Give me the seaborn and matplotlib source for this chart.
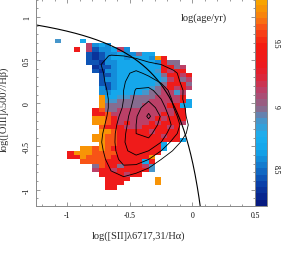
import numpy as np
import matplotlib
matplotlib.use("Agg")
import matplotlib.pyplot as plt
from matplotlib.colors import LinearSegmentedColormap
from matplotlib.ticker import MultipleLocator, FormatStrFormatter
import seaborn as sns

# age map: one char per 0.05 x 0.05 cell, '.' = no data
# columns start at x=-1.10, rows start at y=0.80 (top) and go down
age_rows = [
    "",
    "4...3",
    ".....6232",
    "...7.6122362",
    ".....10122322533",
    ".....1012332333297",
    ".....110223333332755",
    "......011233333337756",
    "......102233333347677",
    ".......112333333357767",
    ".......122333333346756",
    ".......112333333457775",
    ".......212333334567676",
    ".......22333334556646",
    ".......93344555566667",
    ".......944555556666673",
    ".......955555566667733",
    "......785566666666677",
    "......778666666667677",
    "......998766666676777",
    "......998767666767776",
    ".......8777666777767",
    ".......9987777767777",
    "......99887777777677",
    "......998877777777773",
    ".......98877777773",
    "....99898777777773",
    "..799988887777777",
    "..77988887777779",
    "....888877777737",
    "......5877577764",
    "......6776777774",
    ".......7777677",
    "........7777....9",
    "........777.....9",
    "........77",
    "",
    "",
]
age_codes = {"0": 8.30, "1": 8.42, "2": 8.55, "3": 8.70, "4": 8.88,
             "5": 8.98, "6": 9.12, "7": 9.35, "8": 9.60, "9": 9.78}

# density contours (grid centres every 0.1)
dens_x = [-0.85, -0.75, -0.65, -0.55, -0.45, -0.35, -0.25, -0.15, -0.05, 0.05]
dens_y = [0.65, 0.55, 0.45, 0.35, 0.25, 0.15, 0.05, -0.05, -0.15, -0.25,
          -0.35, -0.45, -0.55, -0.65, -0.75, -0.85, -0.95]
dens = [
    [0, 0, 0, 0, 0, 0, 0, 0, 0, 0],
    [0, 0.6, 1.1, 1.0, 0.8, 0.5, 0, 0, 0, 0],
    [0, 0.9, 1.4, 1.6, 1.5, 1.2, 1.0, 0.6, 0, 0],
    [0, 0.8, 1.3, 1.8, 2.2, 1.8, 1.5, 1.2, 0.5, 0],
    [0, 0.6, 1.4, 1.9, 2.6, 2.4, 1.9, 1.4, 0.6, 0],
    [0, 0.4, 1.3, 2.0, 3.1, 3.3, 2.5, 1.6, 0.8, 0],
    [0, 0.3, 1.2, 2.0, 3.3, 3.8, 3.0, 1.8, 0.7, 0],
    [0, 0.3, 1.2, 2.1, 3.6, 4.6, 3.5, 2.0, 0.9, 0],
    [0, 0.4, 1.3, 2.4, 3.9, 5.2, 3.9, 2.4, 1.0, 0],
    [0, 0.5, 1.5, 2.6, 4.0, 4.5, 3.8, 2.8, 1.2, 0],
    [0, 0.7, 1.6, 2.8, 4.0, 4.2, 3.5, 2.4, 1.0, 0],
    [0, 0.8, 1.6, 2.9, 3.8, 3.8, 3.0, 1.6, 0.5, 0],
    [0, 0.7, 1.5, 2.8, 3.4, 3.0, 2.0, 0.9, 0, 0],
    [0, 0.5, 1.4, 2.4, 2.6, 2.0, 1.0, 0.3, 0, 0],
    [0, 0.2, 1.1, 1.8, 1.6, 1.0, 0.4, 0, 0, 0],
    [0, 0, 0.8, 1.0, 0.6, 0.3, 0, 0, 0, 0],
    [0, 0, 0, 0, 0, 0, 0, 0, 0, 0],
]
dens_levels = [1, 2, 3, 4, 5]

# demarcation curve y = a / (x - b) + c
curve_a, curve_b, curve_c = 0.59, 0.30, 1.29

cbar_ticks = [8.5, 9.0, 9.5]
age_min, age_max = 8.2, 9.85

sns.set_style("ticks")
plt.rcParams["font.family"] = ["Liberation Serif", "DejaVu Serif"]
plt.rcParams["axes.unicode_minus"] = False

ncol, nrow = 24, 38
grid = np.full((nrow, ncol), np.nan)
for i, row in enumerate(age_rows):
    row = row.ljust(ncol, ".")[:ncol]
    for j, ch in enumerate(row):
        if ch in age_codes:
            grid[i, j] = age_codes[ch]
x_edges = -1.10 + 0.05 * np.arange(ncol + 1)
y_edges = 0.80 - 0.05 * np.arange(nrow + 1)

anchors = [(8.20, "#061a80"), (8.35, "#0a3ea8"), (8.50, "#1478cc"),
           (8.62, "#12a2e8"), (8.75, "#1ab0f0"), (8.88, "#4a94c8"),
           (8.98, "#8a6a8c"), (9.12, "#b8426a"), (9.22, "#d82a40"),
           (9.32, "#ec1a20"), (9.50, "#f41c10"), (9.62, "#f84818"),
           (9.72, "#f87c10"), (9.85, "#f8a400")]
cmap = LinearSegmentedColormap.from_list(
    "age", [((v - age_min) / (age_max - age_min), c) for v, c in anchors]).resampled(33)

fig = plt.figure(figsize=(2.88, 2.55), dpi=100)
ax = fig.add_axes([36 / 288, 48 / 255, 219 / 288, 207 / 255])
cax = fig.add_axes([255 / 288, 48 / 255, 12 / 288, 207 / 255])

mesh = ax.pcolormesh(x_edges, y_edges, np.ma.masked_invalid(grid), cmap=cmap,
                     vmin=age_min, vmax=age_max, shading="flat")
ax.contour(dens_x, dens_y, np.array(dens), levels=dens_levels,
           colors="k", linewidths=0.6)

cx = np.linspace(-1.25, 0.07, 300)
sns.lineplot(x=cx, y=curve_a / (cx - curve_b) + curve_c, color="k",
             linewidth=0.8, sort=False, estimator=None, ax=ax)

ax.set_xlim(-1.25, 0.5)
ax.set_ylim(-1.19, 1.21)
ax.xaxis.set_major_locator(MultipleLocator(0.5))
ax.xaxis.set_minor_locator(MultipleLocator(0.1))
ax.yaxis.set_major_locator(MultipleLocator(0.5))
ax.yaxis.set_minor_locator(MultipleLocator(0.1))
ax.xaxis.set_major_formatter(FormatStrFormatter("%g"))
ax.yaxis.set_major_formatter(FormatStrFormatter("%g"))
ax.tick_params(which="both", direction="in", top=True, right=True,
               colors="#888888", labelcolor="k", labelsize=5.5, width=0.6)
ax.tick_params(which="major", length=3)
ax.tick_params(which="minor", length=1.5)
plt.setp(ax.get_yticklabels(), rotation=90, va="center")
for s in ax.spines.values():
    s.set_color("#888888")
    s.set_linewidth(0.7)

ax.set_xlabel("log([SII]λ6717,31/Hα)", fontsize=7.5)
ax.set_ylabel("log([OIII]λ5007/Hβ)", fontsize=7.5)
ax.xaxis.set_label_coords(0.468, -0.12)
ax.yaxis.set_label_coords(-0.125, 0.47)
ax.text(0.767, 0.913, "log(age/yr)", transform=ax.transAxes,
        ha="center", va="center", fontsize=7.5)

cb = fig.colorbar(mesh, cax=cax)
cb.set_ticks(cbar_ticks)
cb.ax.yaxis.set_major_formatter(FormatStrFormatter("%g"))
cb.ax.yaxis.set_minor_locator(MultipleLocator(0.1))
cb.outline.set_edgecolor("#888888")
cb.outline.set_linewidth(0.7)
cax.tick_params(which="both", direction="in", left=True, right=True,
                colors="#888888", labelcolor="k", labelsize=5.5, width=0.6)
cax.tick_params(which="major", length=3)
cax.tick_params(which="minor", length=1.5)
plt.setp(cax.get_yticklabels(), rotation=-90, va="center")

fig.savefig("out.png", dpi=100)
